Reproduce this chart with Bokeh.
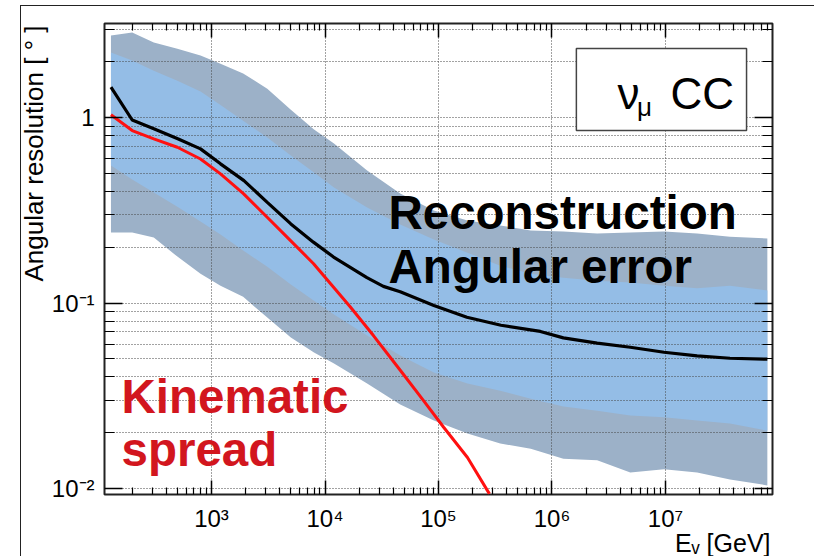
import math
from bokeh.plotting import figure
from bokeh.models import (Range1d, FixedTicker, LogAxis, Label, BoxAnnotation, Title,
                          InlineStyleSheet)
from bokeh.embed import file_html
from bokeh.resources import INLINE

# ---------------- data ----------------
band_energy = [130, 200, 310, 500, 800, 1200, 1900, 3100, 5000, 8000,
               1.2e4, 2.35e4, 4.6e4, 9.1e4, 1.8e5, 3.5e5, 6.5e5,
               1.26e6, 2.5e6, 4.9e6, 9.7e6, 1.9e7, 3.7e7, 7.9e7]
outer_upper = [2.77, 2.87, 2.54, 2.35, 2.16, 1.95, 1.73, 1.43, 1.10, 0.862,
               0.724, 0.518, 0.389, 0.315, 0.279, 0.262, 0.246,
               0.243, 0.237, 0.240, 0.243, 0.237, 0.228, 0.223]
inner_upper = [2.24, 2.03, 1.79, 1.58, 1.38, 1.17, 0.96, 0.78, 0.624, 0.505,
               0.42, 0.327, 0.265, 0.22, 0.187, 0.159, 0.144,
               0.137, 0.132, 0.129, 0.124, 0.12, 0.124, 0.117]
inner_lower = [0.551, 0.463, 0.394, 0.331, 0.275, 0.234, 0.192, 0.157, 0.126, 0.103,
               0.0867, 0.0668, 0.0521, 0.0422, 0.0368, 0.0337, 0.0305,
               0.0277, 0.0263, 0.0248, 0.0242, 0.0233, 0.0224, 0.0205]
outer_lower = [0.240, 0.240, 0.2255, 0.178, 0.144, 0.124, 0.108, 0.0835, 0.0652, 0.0541,
               0.0472, 0.0368, 0.0284, 0.0233, 0.0198, 0.0175, 0.0164,
               0.0145, 0.0142, 0.0122, 0.0127, 0.0122, 0.0112, 0.0104]

reco_energy = [130, 200, 310, 510, 800, 1200, 1930, 3100, 5000, 7900,
               1.19e4, 2.34e4, 3.27e4, 4.6e4, 9.1e4, 1.78e5, 3.55e5, 7.9e5,
               1.26e6, 2.5e6, 4.9e6, 9.7e6, 1.9e7, 3.7e7, 7.9e7]
reco_error = [1.46, 0.97, 0.87, 0.767, 0.678, 0.563, 0.457, 0.349, 0.267, 0.213,
              0.177, 0.137, 0.123, 0.115, 0.097, 0.0838, 0.0759, 0.0703,
              0.0649, 0.0608, 0.0578, 0.0543, 0.0519, 0.0504, 0.0498]

kin_energy = [130, 200, 310, 500, 800, 1200, 1910, 3110, 4970, 7930,
              9710, 1.68e4, 2.67e4, 4.62e4, 7.38e4, 1.11e5, 1.80e5, 2.81e5]
kin_spread = [1.035, 0.851, 0.767, 0.692, 0.598, 0.497, 0.389, 0.289, 0.217, 0.163,
              0.1407, 0.0949, 0.0668, 0.0433, 0.0298, 0.0214, 0.0147, 0.00936]

x_major_ticks = [1e3, 1e4, 1e5, 1e6, 1e7]
x_major_labels = ["10\u00b3", "10\u2074", "10\u2075", "10\u2076", "10\u2077"]
y_major_ticks = [0.01, 0.1, 1.0]
y_major_labels = ["10\u207b\u00b2", "10\u207b\u00b9", "1"]

y_title = "Angular resolution [ \u00b0 ]"
x_title = "E\u1d65 [GeV]"

# ---------------- styling ----------------
FONT = "Liberation Sans"
OUTER_BAND = "#9cb1c8"
INNER_BAND = "#94bde6"
GRID = "#444444"

x_lo, x_hi = 10 ** 2.057, 10 ** 7.943
y_lo, y_hi = 10 ** -2.032, 10 ** 0.507

x_minor = [k * 10 ** d for d in range(2, 8) for k in range(2, 10) if x_lo <= k * 10 ** d <= x_hi]
y_minor = [k * 10 ** d for d in range(-2, 1) for k in range(2, 10) if y_lo <= k * 10 ** d <= y_hi]

xticker = FixedTicker(ticks=x_major_ticks, minor_ticks=x_minor)
yticker = FixedTicker(ticks=y_major_ticks, minor_ticks=y_minor)

p = figure(width=814, height=556, x_axis_type="log", y_axis_type="log",
           x_range=Range1d(x_lo, x_hi), y_range=Range1d(y_lo, y_hi),
           output_backend="svg", toolbar_location=None,
           min_border_left=104, min_border_right=42,
           min_border_top=23, min_border_bottom=62)
p.background_fill_color = "white"
p.border_fill_color = "white"
p.outline_line_color = "#222222"
p.outline_line_width = 2

# slide frame seen at the top and left of the picture
p.stylesheets = [InlineStyleSheet(css=(
    ":host::after { content: ''; position: absolute; left: 20px; top: 5px; "
    "width: 820px; height: 560px; border-left: 1.5px solid #222; "
    "border-top: 1.5px solid #222; pointer-events: none; }"))]

# bands
p.varea(x=band_energy, y1=outer_lower, y2=outer_upper, fill_color=OUTER_BAND, level="image")
p.varea(x=band_energy, y1=inner_lower, y2=inner_upper, fill_color=INNER_BAND, level="image")

# curves
p.line(reco_energy, reco_error, line_color="black", line_width=3.2)
p.line(kin_energy, kin_spread, line_color="#ff1010", line_width=3)

# grids
p.xgrid.ticker = xticker
p.ygrid.ticker = yticker
for g in (p.xgrid, p.ygrid):
    g.grid_line_color = GRID
    g.grid_line_dash = "1 2"
    g.grid_line_width = 1
    g.level = "underlay"
p.ygrid.minor_grid_line_color = GRID
p.ygrid.minor_grid_line_dash = "1 2"
p.ygrid.minor_grid_line_width = 1

# axes
xax = p.xaxis[0]
yax = p.yaxis[0]
xax.ticker = xticker
yax.ticker = yticker
xax.major_label_overrides = dict(zip(x_major_ticks, x_major_labels))
yax.major_label_overrides = dict(zip(y_major_ticks, y_major_labels))
for ax in (xax, yax):
    ax.axis_line_color = None
    ax.major_tick_out = 0
    ax.minor_tick_out = 0
    ax.major_tick_line_color = "black"
    ax.minor_tick_line_color = "black"
    ax.major_tick_line_width = 1.5
    ax.minor_tick_line_width = 1.2
    ax.major_label_text_font = FONT
    ax.major_label_text_font_size = "24px"
    ax.major_label_text_color = "black"
xax.major_tick_in = 14
xax.minor_tick_in = 7
yax.major_tick_in = 18
yax.minor_tick_in = 10
xax.major_label_standoff = 10
yax.major_label_standoff = 10

top = LogAxis(ticker=xticker, major_label_overrides={t: "" for t in x_major_ticks},
              axis_line_color=None, major_tick_in=14, major_tick_out=0,
              minor_tick_in=7, minor_tick_out=0, major_tick_line_width=1.5,
              minor_tick_line_width=1.2, major_label_standoff=0)
right = LogAxis(ticker=yticker, major_label_overrides={t: "" for t in y_major_ticks},
                axis_line_color=None, major_tick_in=18, major_tick_out=0,
                minor_tick_in=10, minor_tick_out=0, major_tick_line_width=1.5,
                minor_tick_line_width=1.2, major_label_standoff=0)
p.add_layout(top, "above")
p.add_layout(right, "right")

# axis titles
p.add_layout(Title(text=y_title, align="right", text_font=FONT, text_font_size="26px",
                   text_font_style="normal", text_color="black", standoff=0, offset=2),
             "left")
p.add_layout(Title(text=x_title, align="right", text_font=FONT, text_font_size="25px",
                   text_font_style="normal", text_color="black", standoff=-16, offset=2),
             "below")

# legend-like box
p.add_layout(BoxAnnotation(left=1.64e6, right=5.18e7, bottom=0.851, top=2.355,
                           fill_color="white", fill_alpha=1.0,
                           line_color="#444444", line_alpha=1.0, line_width=1.5))
p.add_layout(Label(x=3.78e6, y=1.347, text="\u03bd", text_font=FONT,
                   text_font_size="44px", text_color="black", text_baseline="middle"))
p.add_layout(Label(x=5.6e6, y=1.146, text="\u03bc", text_font=FONT,
                   text_font_size="26px", text_color="black", text_baseline="middle"))
p.add_layout(Label(x=1.107e7, y=1.347, text="CC", text_font=FONT,
                   text_font_size="44px", text_color="black", text_baseline="middle"))

# annotations
for txt, yy in (("Reconstruction", 0.3076), ("Angular error", 0.157)):
    p.add_layout(Label(x=3.62e4, y=yy, text=txt, text_font=FONT, text_font_style="bold",
                       text_font_size="47.5px", text_color="black", text_baseline="middle"))
for txt, yy in (("Kinematic", 0.0313), ("spread", 0.0162)):
    p.add_layout(Label(x=161, y=yy, text=txt, text_font=FONT, text_font_style="bold",
                       text_font_size="47.5px", text_color="#d2161e", text_baseline="middle"))

open("out.html", "w").write(file_html(p, INLINE))
